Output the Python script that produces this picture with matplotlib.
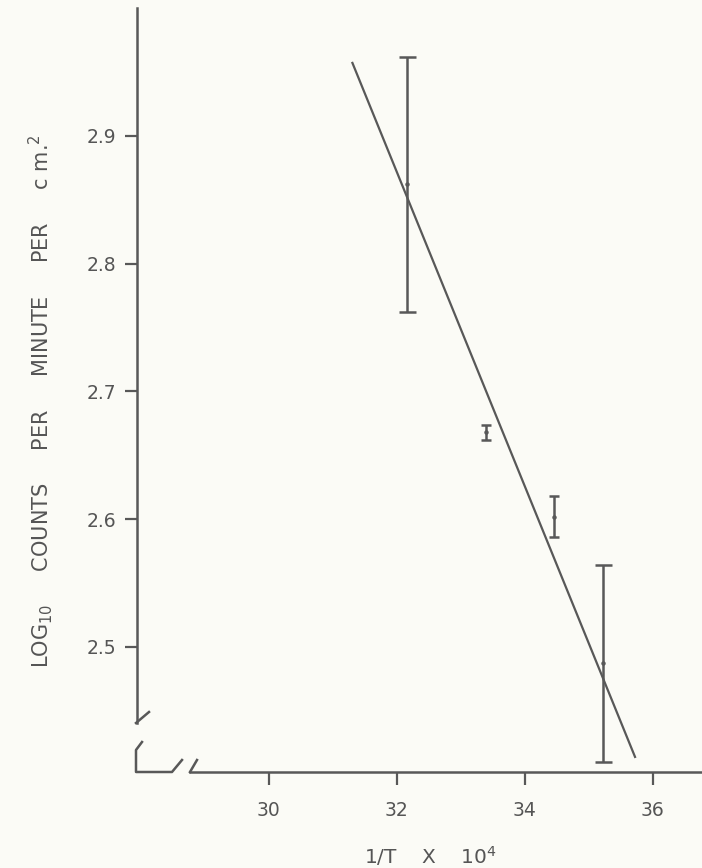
import matplotlib
matplotlib.use("Agg")
import matplotlib.pyplot as plt
import numpy as np

# data
inv_t = [32.16, 33.40, 34.45, 35.22]          # 1/T x 10^4
log_counts = [2.862, 2.668, 2.602, 2.487]     # log10 counts per minute per cm^2
log_err = [0.100, 0.006, 0.016, 0.077]

fit_x = [31.30, 35.73]
fit_y = [2.958, 2.413]

x_ticks = [30, 32, 34, 36]
y_ticks = [2.5, 2.6, 2.7, 2.8, 2.9]

ink = "#585858"
paper = "#fbfbf6"

fig = plt.figure(figsize=(7.02, 8.68), dpi=100, facecolor=paper)
ax = fig.add_axes([137 / 702, 96 / 868, 565 / 702, 763.75 / 868])
ax.set_facecolor(paper)
ax.set_xlim(27.94, 36.77)
ax.set_ylim(2.402, 3.0)

# fitted line
ax.plot(fit_x, fit_y, color=ink, lw=1.6, solid_capstyle="butt")

# error bars, wide caps for the big bars
for x, y, e in zip(inv_t, log_counts, log_err):
    cap = 8.5 if e > 0.05 else 5
    ax.errorbar(x, y, yerr=e, fmt="o", ms=2.2, color=ink, ecolor=ink,
                elinewidth=1.8, capsize=cap * 0.72, capthick=1.8)

# axes with broken corner
for s in ["top", "right"]:
    ax.spines[s].set_visible(False)
ax.spines["left"].set_bounds(2.44, 3.0)
ax.spines["bottom"].set_bounds(28.77, 36.77)
for s in ["left", "bottom"]:
    ax.spines[s].set_color(ink)
    ax.spines[s].set_linewidth(1.8)

# break marks (axes-fraction coords)
px = lambda x, y: ((x - 137) / 565, (772 - y) / 763.75)
marks = [
    [px(136, 723), px(149, 712)],
    [px(142, 742), px(136, 750), px(136, 772), px(172, 772), px(182, 760)],
    [px(197, 760), px(190, 772)],
]
for m in marks:
    mx, my = zip(*m)
    ax.plot(mx, my, transform=ax.transAxes, color=ink, lw=1.8, clip_on=False)

ax.set_xticks(x_ticks)
ax.set_xticklabels([str(t) for t in x_ticks])
ax.set_yticks(y_ticks)
ax.set_yticklabels([f"{t:.1f}" for t in y_ticks])
ax.tick_params(axis="both", direction="out", colors=ink, width=1.6,
               labelsize=13.5, labelcolor="#555555")
ax.tick_params(axis="x", length=9, pad=12)
ax.tick_params(axis="y", length=9, pad=6)

ax.set_xlabel(r"1/T    X    10$^{4}$", fontsize=14.5, color="#555555")
gap = " " * 5
ax.set_ylabel("LOG$_{10}$" + gap + "COUNTS" + gap + "PER" + gap + "MINUTE"
              + gap + "PER" + gap + "c m.$^{2}$",
              fontsize=15, color="#555555")
ax.xaxis.set_label_coords(0.52, -0.095)
ax.yaxis.set_label_coords(-0.145, 0.485)

fig.savefig("out.png", dpi=100, facecolor=paper)
